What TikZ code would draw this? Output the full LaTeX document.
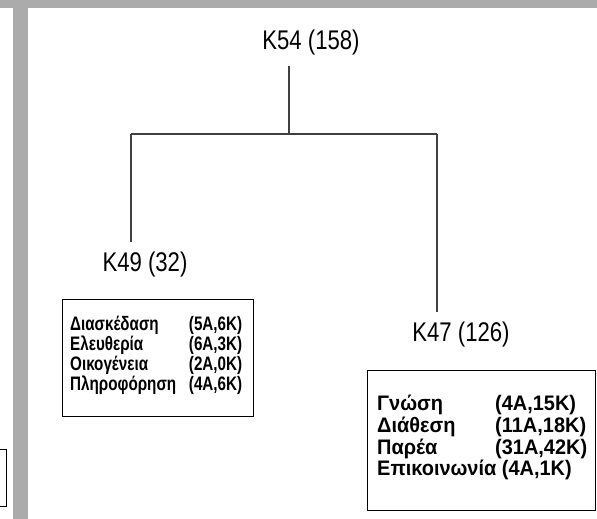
\documentclass[tikz,border=0pt]{standalone}
\usepackage{fontspec}
\usepackage{tikz}
\usetikzlibrary{positioning,calc}
\setmainfont{Liberation Sans}
\newfontfamily\headfont{Liberation Sans}[FakeStretch=0.82]
\newfontfamily\leftcellfont{Liberation Sans}[FakeStretch=0.78]
\newfontfamily\rightcellfont{Liberation Sans}[FakeStretch=0.95]
\definecolor{framegray}{HTML}{ABABAB}
\definecolor{linkgray}{HTML}{404040}
\tikzset{
  head/.style={font=\headfont\fontsize{27}{32}\selectfont, inner xsep=0pt, inner ysep=10pt},
  clusterbox/.style={draw=black, line width=1.1pt, anchor=north west, align=left, inner ysep=0pt, inner xsep=0pt},
  link/.style={draw=linkgray, line width=1.6pt},
  bar/.style={fill=framegray, draw=none}
}

\begin{document}
\begin{tikzpicture}[x=1pt, y=-1pt]
  \useasboundingbox (0,0) rectangle (597,519);
  % page frame
  \fill[bar] (0,0) rectangle (597,8.5);
  \fill[bar] (13,8.5) rectangle (27.5,519);
  \draw[line width=1pt] (0,449) -- (6,449) -- (6,506) -- (0,506);

  % cluster heads
  \node[head] (root) at (311,43) {K54 (158)};
  \node[head] (left) at (145,265) {K49 (32)};
  \node[head] (right) at (461,335) {K47 (126)};

  % cluster contents
  \node[clusterbox, minimum width=191pt, minimum height=117pt] (leftbox) at (62,299) {};
  \node[anchor=west, inner sep=0pt, font=\leftcellfont\bfseries\fontsize{19.5}{18.6}\selectfont] (lefttab) at ($(leftbox.west)+(8,-2)$) {%
    \begin{tabular*}{172pt}{@{}l@{\extracolsep{\fill}}r@{}}
      Διασκέδαση & (5A,6K)\\
      Ελευθερία & (6A,3K)\\
      Οικογένεια & (2A,0K)\\
      Πληροφόρηση & (4A,6K)
    \end{tabular*}};
  \node[clusterbox, minimum width=228pt, minimum height=140pt] (rightbox) at (367,370) {};
  \node[anchor=west, inner sep=0pt, font=\rightcellfont\bfseries\fontsize{21}{21.5}\selectfont] (righttab) at ($(rightbox.west)+(10,-2)$) {%
    \begin{tabular}{@{}p{118pt}@{}l@{}}
      Γνώση & (4A,15K)\\
      Διάθεση & (11A,18K)\\
      Παρέα & (31A,42K)\\
      \multicolumn{2}{@{}l@{}}{Επικοινωνία (4A,1K)}
    \end{tabular}};

  % tree links
  \coordinate (hub) at (289,134);
  \coordinate (lfoot) at (131,134);
  \coordinate (rfoot) at (437,134);
  \draw[link] (root.south -| hub) -- (hub);
  \draw[link] (lfoot) -- (rfoot);
  \draw[link] (lfoot) -- (lfoot |- left.north);
  \draw[link] (rfoot) -- (rfoot |- right.north);
\end{tikzpicture}
\end{document}
